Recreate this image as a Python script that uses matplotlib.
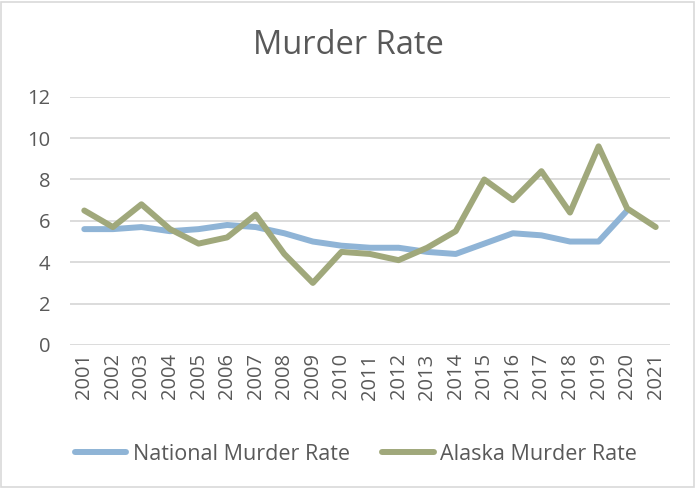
import numpy as np
import matplotlib
matplotlib.use("Agg")
import matplotlib.pyplot as plt
from matplotlib.patches import Rectangle

years = [str(y) for y in range(2001, 2022)]
national = [5.6, 5.6, 5.7, 5.5, 5.6, 5.8, 5.7, 5.4, 5.0, 4.8, 4.7,
            4.7, 4.5, 4.4, 4.9, 5.4, 5.3, 5.0, 5.0, 6.5, np.nan]
alaska = [6.5, 5.7, 6.8, 5.6, 4.9, 5.2, 6.3, 4.4, 3.0, 4.5, 4.4,
          4.1, 4.7, 5.5, 8.0, 7.0, 8.4, 6.4, 9.6, 6.6, 5.7]
yticks = [0, 2, 4, 6, 8, 10, 12]

plt.rcParams['font.family'] = ['Open Sans', 'DejaVu Sans']
text_color = '#595959'

fig = plt.figure(figsize=(6.96, 4.88), dpi=100)
ax = fig.add_axes([70/696, 1-345/488, 600/696, (345-96.7)/488])

x = np.arange(len(years))
ax.plot(x, national, color='#8FB4D6', lw=4.3, solid_capstyle='round',
        solid_joinstyle='round', label='National Murder Rate', zorder=3)
ax.plot(x, alaska, color='#A0A87B', lw=4.3, solid_capstyle='round',
        solid_joinstyle='round', label='Alaska Murder Rate', zorder=4)

ax.set_xlim(-0.5, len(years) - 0.5)
ax.set_ylim(0, 12)
ax.set_yticks(yticks)
ax.set_yticklabels([str(t) for t in yticks], fontsize=14.5, color=text_color)
ax.set_xticks(x)
ax.set_xticklabels(years, rotation=90, fontsize=14.5, color=text_color)
ax.tick_params(axis='y', length=0, pad=14)
ax.tick_params(axis='x', length=0, pad=6)
ax.grid(axis='y', color='#D9D9D9', lw=1.3)
ax.set_axisbelow(True)
for s in ax.spines.values():
    s.set_visible(False)

fig.text(0.5, 1-45/488, 'Murder Rate', ha='center', va='center',
         fontsize=23.5, color=text_color)

leg = fig.legend(loc='center', bbox_to_anchor=(356/696, 1-454/488), ncol=2,
                 frameon=False, fontsize=15.5, handlelength=2.4,
                 columnspacing=1.5, handletextpad=0.3)
for t in leg.get_texts():
    t.set_color(text_color)

fig.patches.append(Rectangle((1/696, 1/488), 693/696, 485/488,
                             transform=fig.transFigure, fill=False,
                             edgecolor='#D9D9D9', lw=1.2))

fig.savefig('out.png', dpi=100)
